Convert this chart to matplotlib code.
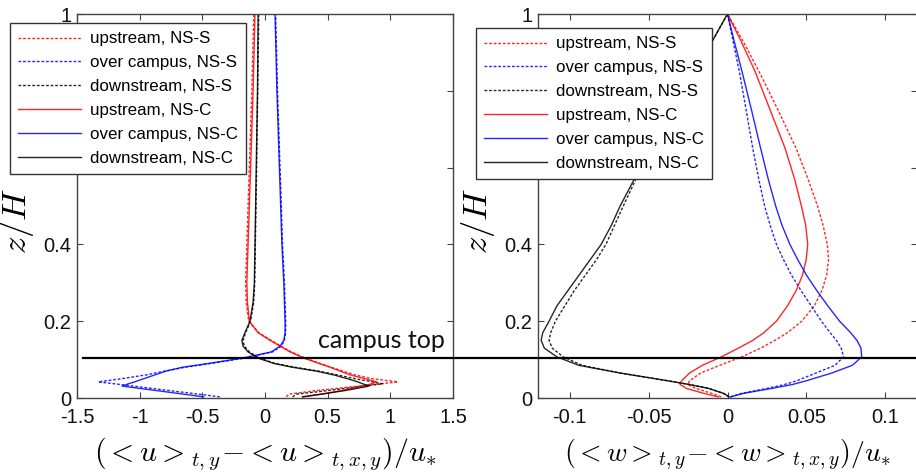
import matplotlib
matplotlib.use("Agg")
import matplotlib.pyplot as plt
from matplotlib.lines import Line2D
from matplotlib.transforms import blended_transform_factory

plt.rcParams["font.family"] = ["Liberation Sans", "DejaVu Sans"]
plt.rcParams["mathtext.fontset"] = "cm"
plt.rcParams["axes.unicode_minus"] = False

# height z/H where the u profiles are sampled
Z_U = [0.003, 0.01, 0.02, 0.031, 0.037, 0.042, 0.05, 0.06, 0.07, 0.08, 0.09,
       0.104, 0.12, 0.135, 0.15, 0.17, 0.2, 0.25, 0.3, 0.4, 0.6, 0.8, 1.0]

# (<u>_{t,y} - <u>_{t,x,y}) / u*
U_UP_S = [0.17, 0.19, 0.42, 0.75, 0.92, 1.06, 0.86, 0.72, 0.62, 0.53, 0.44,
          0.32, 0.21, 0.13, 0.05, -0.05, -0.13, -0.15, -0.155, -0.145, -0.125, -0.105, -0.09]
U_OVER_S = [-0.36, -0.53, -0.78, -1.05, -1.20, -1.33, -1.15, -0.95, -0.80, -0.64, -0.43,
            -0.16, 0.06, 0.13, 0.155, 0.165, 0.165, 0.16, 0.155, 0.14, 0.12, 0.10, 0.085]
U_DOWN_S = [0.22, 0.25, 0.52, 0.78, 0.94, 0.86, 0.72, 0.58, 0.43, 0.24, 0.08,
            -0.045, -0.125, -0.165, -0.175, -0.155, -0.115, -0.09, -0.082, -0.077, -0.067, -0.058, -0.05]
U_UP_C = [0.30, 0.45, 0.62, 0.78, 0.85, 0.89, 0.80, 0.68, 0.60, 0.52, 0.43,
          0.31, 0.20, 0.12, 0.04, -0.055, -0.125, -0.14, -0.145, -0.135, -0.115, -0.095, -0.08]
U_OVER_C = [-0.49, -0.65, -0.88, -1.14, -1.09, -1.04, -0.97, -0.88, -0.79, -0.66, -0.45,
            -0.18, 0.05, 0.12, 0.15, 0.16, 0.16, 0.155, 0.15, 0.135, 0.115, 0.095, 0.08]
U_DOWN_C = [0.30, 0.45, 0.65, 0.83, 0.78, 0.74, 0.66, 0.55, 0.41, 0.22, 0.07,
            -0.055, -0.135, -0.175, -0.185, -0.16, -0.12, -0.095, -0.085, -0.08, -0.07, -0.06, -0.055]

# height z/H where the w profiles are sampled
Z_W = [0.003, 0.012, 0.025, 0.035, 0.045, 0.065, 0.085, 0.107, 0.13, 0.15, 0.17, 0.2,
       0.24, 0.28, 0.32, 0.36, 0.40, 0.45, 0.5, 0.57, 0.65, 0.75, 0.85, 0.93, 1.0]

# (<w>_{t,y} - <w>_{t,x,y}) / u*
W_UP_S = [-0.004, -0.010, -0.020, -0.025, -0.024, -0.017, -0.005, 0.009, 0.021, 0.030, 0.038, 0.047,
          0.055, 0.0598, 0.0628, 0.064, 0.0632, 0.0605, 0.057, 0.051, 0.0435, 0.032, 0.020, 0.0098, 0.0]
W_OVER_S = [0.002, 0.009, 0.025, 0.036, 0.044, 0.056, 0.068, 0.0735, 0.072, 0.069, 0.065, 0.0595,
            0.053, 0.0465, 0.0405, 0.0355, 0.031, 0.027, 0.0235, 0.0198, 0.016, 0.0118, 0.0075, 0.0035, 0.0]
W_DOWN_S = [0.001, -0.0025, -0.012, -0.024, -0.038, -0.068, -0.092, -0.104, -0.111, -0.113, -0.112, -0.109,
            -0.103, -0.097, -0.090, -0.083, -0.077, -0.0715, -0.066, -0.058, -0.047, -0.034, -0.020, -0.0095, 0.0]
W_UP_C = [-0.006, -0.015, -0.026, -0.030, -0.029, -0.024, -0.016, -0.004, 0.007, 0.016, 0.023, 0.031,
          0.038, 0.0435, 0.0475, 0.0498, 0.0508, 0.0495, 0.0468, 0.0425, 0.0365, 0.027, 0.0175, 0.0085, 0.0]
W_OVER_C = [0.002, 0.010, 0.028, 0.041, 0.050, 0.066, 0.079, 0.085, 0.0845, 0.082, 0.078, 0.071,
            0.0635, 0.0565, 0.050, 0.0445, 0.0395, 0.0345, 0.0305, 0.0258, 0.021, 0.0152, 0.0092, 0.0042, 0.0]
W_DOWN_C = [0.001, -0.0025, -0.012, -0.024, -0.038, -0.068, -0.094, -0.108, -0.116, -0.118, -0.117, -0.113,
            -0.108, -0.101, -0.094, -0.087, -0.080, -0.0735, -0.068, -0.059, -0.048, -0.034, -0.021, -0.0096, 0.0]

LABELS = ["upstream, NS-S", "over campus, NS-S", "downstream, NS-S",
          "upstream, NS-C", "over campus, NS-C", "downstream, NS-C"]
COLORS = ["red", "blue", "black", "red", "blue", "black"]
CAMPUS_TOP = 0.104

U_TICKS = [-1.5, -1, -0.5, 0, 0.5, 1, 1.5]
W_TICKS = [-0.1, -0.05, 0, 0.05, 0.1]
Z_TICKS = [0, 0.2, 0.4, 0.6, 0.8, 1]

DOTTED = (0, (2.0, 1.3))
SPINE = "#444444"


def style_axes(ax):
    for sp in ax.spines.values():
        sp.set_color(SPINE)
        sp.set_linewidth(1.0)
    ax.tick_params(direction="in", length=4, width=0.8, color=SPINE,
                   top=True, right=True, labelsize=14.5, labelcolor="#111111")
    ax.tick_params(axis="x", pad=7)
    ax.tick_params(axis="y", pad=4)
    ax.set_ylim(0, 1)
    ax.set_yticks(Z_TICKS)
    ax.set_yticklabels([f"{t:g}" for t in Z_TICKS])
    ax.set_ylabel(r"$z/H$", fontsize=25)
    ax.yaxis.set_label_coords(-0.108, 0.46)


def draw_panel(ax, z, series):
    for i, vals in enumerate(series):
        ls = DOTTED if i < 3 else "-"
        ax.plot(vals, z, color=COLORS[i], linestyle=ls, linewidth=1.0,
                alpha=0.85, label=LABELS[i])


fig = plt.figure(figsize=(9.16, 4.76), dpi=100)
ax1 = fig.add_axes([77 / 916, 78 / 476, 376 / 916, 384 / 476])
ax2 = fig.add_axes([538 / 916, 78 / 476, 379 / 916, 384 / 476])

draw_panel(ax1, Z_U, [U_UP_S, U_OVER_S, U_DOWN_S, U_UP_C, U_OVER_C, U_DOWN_C])
draw_panel(ax2, Z_W, [W_UP_S, W_OVER_S, W_DOWN_S, W_UP_C, W_OVER_C, W_DOWN_C])

for ax in (ax1, ax2):
    style_axes(ax)

ax1.set_xlim(-1.5, 1.5)
ax1.set_xticks(U_TICKS)
ax1.set_xticklabels([f"{t:g}" for t in U_TICKS])
ax1.set_xlabel(r"$(<u>_{t,y}\!-\!<u>_{t,x,y})/u_{*}$", fontsize=21.5, labelpad=6)

ax2.set_xlim(-0.12, 0.12)
ax2.set_xticks(W_TICKS)
ax2.set_xticklabels([f"{t:g}" for t in W_TICKS])
ax2.set_xlabel(r"$(<w>_{t,y}\!-\!<w>_{t,x,y})/u_{*}$", fontsize=20, labelpad=8)

legend_kw = dict(loc="upper left", bbox_transform=fig.transFigure, borderaxespad=0,
                 fontsize=12.2, fancybox=False, framealpha=1, edgecolor="#333333",
                 handlelength=3.7, handletextpad=0.5, labelspacing=0.52, borderpad=0.5)
lg1 = ax1.legend(bbox_to_anchor=(10 / 916, 1 - 23 / 476), **legend_kw)
lg2 = ax2.legend(bbox_to_anchor=(476 / 916, 1 - 28 / 476), **legend_kw)
for lg in (lg1, lg2):
    lg.get_frame().set_linewidth(1.0)

# campus top line across both panels
trans = blended_transform_factory(fig.transFigure, ax1.transData)
fig.add_artist(Line2D([83 / 916, 1.0], [CAMPUS_TOP, CAMPUS_TOP], transform=trans,
                      color="black", linewidth=1.6))
ax1.text(0.42, 0.151, "campus top", fontsize=18, family=["Lato", "DejaVu Sans"],
         ha="left", va="center", color="#111111")

fig.savefig("out.png", dpi=100)
